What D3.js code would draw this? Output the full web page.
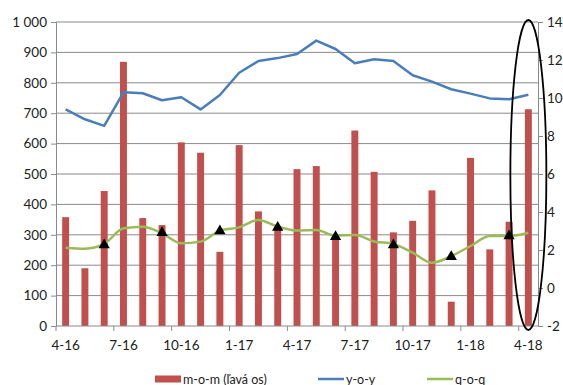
<!DOCTYPE html>
<html>
<head>
<meta charset="utf-8">
<script src="https://cdn.jsdelivr.net/npm/d3@7"></script>
<style>
  html, body { margin: 0; padding: 0; background: #fff; }
  svg { display: block; font-family: Lato, "Noto Sans", sans-serif; }
</style>
</head>
<body>
<svg id="chart" width="563" height="385"></svg>
<script>
// Months shown on the x axis (m-yy)
const months = ["4-16","5-16","6-16","7-16","8-16","9-16","10-16","11-16","12-16",
                "1-17","2-17","3-17","4-17","5-17","6-17","7-17","8-17","9-17",
                "10-17","11-17","12-17","1-18","2-18","3-18","4-18"];

// Month-on-month values (left axis)
const mom = [358, 190, 444, 869, 355, 332, 604, 570, 244,
             595, 377, 320, 516, 526, 300, 643, 507, 308,
             346, 446, 80, 553, 252, 343, 713];

// Year-on-year (right axis)
const yoy = [9.40, 8.88, 8.53, 10.30, 10.25, 9.88, 10.04, 9.40, 10.16,
             11.33, 11.95, 12.10, 12.32, 13.02, 12.58, 11.83, 12.04, 11.95,
             11.20, 10.86, 10.46, 10.23, 9.98, 9.93, 10.17];

// Quarter-on-quarter (right axis)
const qoq = [2.12, 2.07, 2.32, 3.14, 3.23, 2.88, 2.35, 2.44, 3.02,
             3.19, 3.58, 3.23, 3.02, 3.05, 2.75, 2.79, 2.45, 2.32,
             1.86, 1.33, 1.68, 2.21, 2.74, 2.74, 2.91];

// Quarter-end readings marked with triangles
const quarterMonths = ["6-16","9-16","12-16","3-17","6-17","9-17","12-17","3-18"];
const quarterValues = [2.26, 2.91, 3.00, 3.19, 2.70, 2.26, 1.65, 2.74];

const leftTicks = [0,100,200,300,400,500,600,700,800,900,1000];
const rightTicks = [-2,0,2,4,6,8,10,12,14];
const labelMonths = ["4-16","7-16","10-16","1-17","4-17","7-17","10-17","1-18","4-18"];

const legendItems = [
  {label: "m-o-m (ľavá os)", type: "bar"},
  {label: "y-o-y", type: "line", key: "yoy"},
  {label: "q-o-q", type: "line", key: "qoq"}
];

const colors = { mom: "#C0504D", yoy: "#4A7EBB", qoq: "#9BBB59" };
const gridColor = "#8a8a8a";
const textColor = "#222";

const svg = d3.select("#chart");
const L = 56, R = 538, T = 22, B = 326;

const x = d3.scaleBand().domain(months).range([L, R]).paddingInner(0.64).paddingOuter(0.32);
const yL = d3.scaleLinear().domain([0, 1000]).range([B, T]);
const yR = d3.scaleLinear().domain([-2, 14]).range([B, T]);
const cx = m => x(m) + x.bandwidth() / 2;

// horizontal gridlines
svg.append("g").selectAll("line").data(leftTicks.filter(d => d > 0)).join("line")
  .attr("x1", L).attr("x2", R)
  .attr("y1", d => yL(d)).attr("y2", d => yL(d))
  .attr("stroke", gridColor).attr("stroke-width", 1);

// left axis
const fmt = d => d >= 1000 ? d3.format(",")(d).replace(",", " ") : String(d);
const gL = svg.append("g").attr("transform", `translate(${L},0)`)
  .call(d3.axisLeft(yL).tickValues(leftTicks).tickFormat(fmt).tickSize(5).tickPadding(4));
gL.select(".domain").attr("stroke", gridColor);
gL.selectAll(".tick line").attr("stroke", gridColor);
gL.selectAll("text").attr("font-size", 13.5).attr("fill", textColor).attr("font-family", "Lato, 'Noto Sans', sans-serif");

// right axis
const gR = svg.append("g").attr("transform", `translate(${R},0)`)
  .call(d3.axisRight(yR).tickValues(rightTicks).tickFormat(d => d < 0 ? "-" + Math.abs(d) : d).tickSize(5).tickPadding(4));
gR.select(".domain").attr("stroke", gridColor);
gR.selectAll(".tick line").attr("stroke", gridColor);
gR.selectAll("text").attr("font-size", 13.5).attr("fill", textColor).attr("font-family", "Lato, 'Noto Sans', sans-serif");

// bars
svg.append("g").selectAll("rect").data(months).join("rect")
  .attr("x", m => x(m))
  .attr("width", x.bandwidth())
  .attr("y", (m, i) => yL(mom[i]))
  .attr("height", (m, i) => yL(0) - yL(mom[i]))
  .attr("fill", colors.mom);

// x axis
const step = x.step();
svg.append("line").attr("x1", L).attr("x2", R).attr("y1", B).attr("y2", B).attr("stroke", gridColor);
const tickIdx = d3.range(0, months.length + 1, 3);
svg.append("g").selectAll("line").data(tickIdx).join("line")
  .attr("x1", i => L + i * step).attr("x2", i => L + i * step)
  .attr("y1", B).attr("y2", B + 5).attr("stroke", gridColor);
svg.append("g").selectAll("text").data(labelMonths).join("text")
  .attr("x", m => cx(m)).attr("y", B + 24)
  .attr("text-anchor", "middle").attr("font-size", 13.5).attr("fill", textColor)
  .text(m => m);

// lines
const lineYoy = d3.line().x((d, i) => cx(months[i])).y(d => yR(d));
const lineQoq = d3.line().x((d, i) => cx(months[i])).y(d => yR(d)).curve(d3.curveMonotoneX);
svg.append("path").datum(yoy).attr("d", lineYoy)
  .attr("fill", "none").attr("stroke", colors.yoy).attr("stroke-width", 2.5).attr("stroke-linejoin", "round");
svg.append("path").datum(qoq).attr("d", lineQoq)
  .attr("fill", "none").attr("stroke", colors.qoq).attr("stroke-width", 2.5).attr("stroke-linejoin", "round");

// quarter-end triangles
svg.append("g").selectAll("path").data(quarterMonths).join("path")
  .attr("transform", (m, i) => `translate(${cx(m)},${yR(quarterValues[i])})`)
  .attr("d", d3.symbol(d3.symbolTriangle, 55))
  .attr("fill", "#000");

// highlight around the latest month
const last = months[months.length - 1];
svg.append("ellipse")
  .attr("cx", cx(last))
  .attr("cy", (yR(14) + yR(-2)) / 2 + 1)
  .attr("rx", 18)
  .attr("ry", (yR(-2) - yR(14)) / 2 + 3)
  .attr("fill", "none").attr("stroke", "#000").attr("stroke-width", 1.8);

// legend
const legY = 379;
const leg = svg.append("g");
const legX = [155, 318, 427];
legendItems.forEach((it, i) => {
  const g = leg.append("g").attr("transform", `translate(${legX[i]},${legY})`);
  if (it.type === "bar") {
    g.append("rect").attr("x", 0).attr("y", -3.5).attr("width", 26).attr("height", 7).attr("fill", colors.mom);
  } else {
    g.append("line").attr("x1", 0).attr("x2", 26).attr("y1", 0).attr("y2", 0)
      .attr("stroke", colors[it.key]).attr("stroke-width", 2.5);
  }
  g.append("text").attr("x", 28).attr("y", 4.5).attr("font-size", 12.5).attr("fill", textColor).text(it.label);
});
</script>
</body>
</html>
